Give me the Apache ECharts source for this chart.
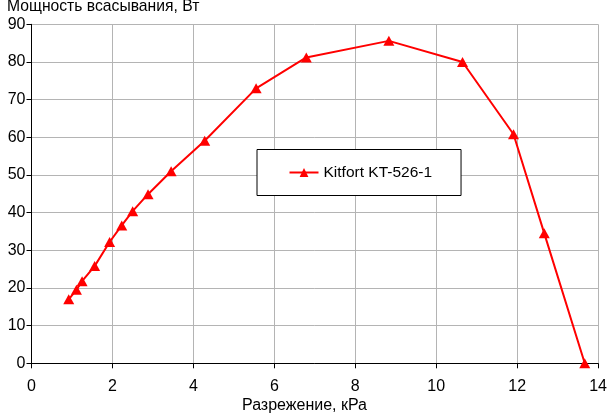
<!DOCTYPE html>
<html><head><meta charset="utf-8">
<script src="https://cdn.jsdelivr.net/npm/echarts@6/dist/echarts.min.js"></script>
<style>html,body{margin:0;padding:0;background:#fff}#c{width:610px;height:417px}</style>
</head><body><div id="c"></div>
<script>
const seriesName = 'Kitfort KT-526-1';
const pressure = [0.92, 1.11, 1.25, 1.56, 1.93, 2.23, 2.50, 2.88, 3.45, 4.28, 5.55, 6.79, 8.83, 10.65, 11.91, 12.67, 13.67];
const power    = [17.0, 19.5, 21.8, 25.8, 32.2, 36.6, 40.4, 44.9, 51.0, 59.1, 73.0, 81.2, 85.6, 80.0, 60.8, 34.5, 0];
const yTitle = 'Мощность всасывания, Вт';
const xTitle = 'Разрежение, кРа';

const font = 'Liberation Sans, Arial, sans-serif';
const chart = echarts.init(document.getElementById('c'), null, {renderer:'canvas'});
chart.setOption({
  animation:false,
  backgroundColor:'#fff',
  textStyle:{fontFamily:font},
  title:[
    {text:yTitle, left:7, top:-1, padding:0, textStyle:{fontFamily:font,fontSize:15.7,fontWeight:'normal',color:'#000'}},
    {text:xTitle, left:242, top:398, padding:0, textStyle:{fontFamily:font,fontSize:16,fontWeight:'normal',color:'#000'}}
  ],
  grid:{left:31.5, right:8, top:24.3, bottom:53.7, containLabel:false},
  legend:{
    left:257, top:149.5, orient:'horizontal',
    data:[seriesName],
    itemWidth:29, itemHeight:11, itemGap:5,
    padding:[15,29,15,31.5],
    borderColor:'#000', borderWidth:1, borderRadius:0, backgroundColor:'#fff',
    textStyle:{fontFamily:font,fontSize:15.5,color:'#000'}
  },
  xAxis:{
    type:'value', min:0, max:14, interval:2,
    axisLine:{show:true, onZero:false, lineStyle:{color:'#000',width:1}},
    axisTick:{show:true, length:5, lineStyle:{color:'#000'}},
    axisLabel:{fontFamily:font,fontSize:16,color:'#000',margin:15},
    splitLine:{show:true, lineStyle:{color:'#b4b4b4',width:1}}
  },
  yAxis:{
    type:'value', min:0, max:90, interval:10,
    axisLine:{show:true, onZero:false, lineStyle:{color:'#000',width:1}},
    axisTick:{show:true, length:5, lineStyle:{color:'#000'}},
    axisLabel:{fontFamily:font,fontSize:16,color:'#000',margin:6},
    splitLine:{show:true, lineStyle:{color:'#b4b4b4',width:1}}
  },
  series:[{
    name:seriesName, type:'line',
    data: pressure.map((p,i)=>[p, power[i]]),
    symbol:'triangle', symbolSize:[11,10], showAllSymbol:true,
    lineStyle:{color:'#ff0000', width:2},
    itemStyle:{color:'#ff0000', borderWidth:0},
    z:3
  }]
});
</script></body></html>
